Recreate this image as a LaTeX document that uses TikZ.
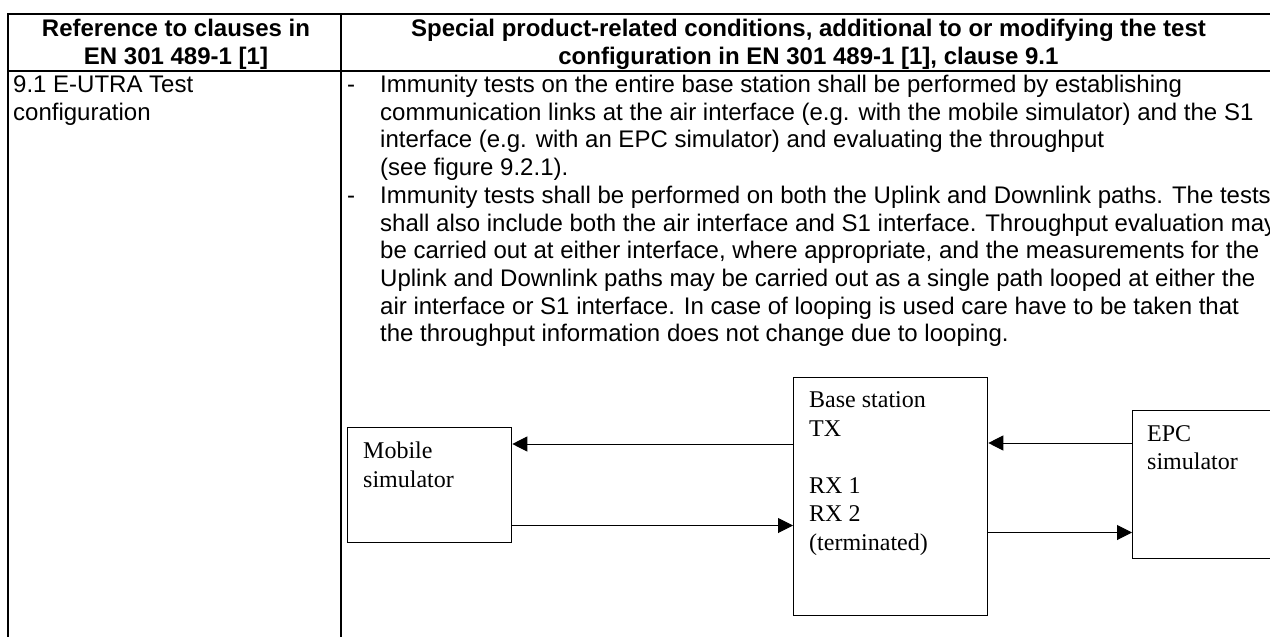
\documentclass[tikz,border=0pt]{standalone}
\usepackage{fontspec}
\setmainfont{Liberation Serif}
\newfontfamily\arialf{Liberation Sans}
\usetikzlibrary{arrows.meta}
\begin{document}
\begin{tikzpicture}[x=1pt,y=-1pt,
  tline/.style={line width=2pt},
  hdr/.style={font=\arialf\bfseries\fontsize{24}{27.6}\selectfont, inner sep=0pt, anchor=base},
  body/.style={font=\arialf\fontsize{24}{27.6}\selectfont, inner sep=0pt, anchor=base west},
  dtxt/.style={font=\fontsize{24}{28.6}\selectfont, inner sep=0pt, anchor=base west},
  blk/.style={draw, line width=1.3pt, inner sep=0pt, anchor=north west},
  conn/.style={line width=1pt, -{Triangle[length=15pt,width=15pt]}}]
\useasboundingbox (0,0) rectangle (1270,637);
\clip (0,0) rectangle (1270,637);
% table rules
\draw[tline] (7,14) -- (1300,14);
\draw[tline] (7,71) -- (1300,71);
\draw[tline] (8,13) -- (8,660);
\draw[tline] (341,13) -- (341,660);
% header
\node[hdr] (h1) at (176,36.5) {Reference to clauses in};
\node[hdr] (h2) at (176,64) {EN 301 489-1 [1]};
\coordinate (yh2) at (0,64);
\node[hdr, anchor=base east] (h3) at (1206,36.5) {Special product-related conditions, additional to or modifying the test};
\node[hdr] (h4) at (h3.base |- yh2) {configuration in EN 301 489-1 [1], clause 9.1};
% left column
\node[body] (c1) at (13,92.5) {9.1 E-UTRA Test};
\node[body] (c2) at (13,120.2) {configuration};
% right column
\node[body] (d1) at (347,92.5) {-};
\node[body] (d2) at (347,203.3) {-};
\node[body] (t1) at (380,92.5) {Immunity tests on the entire base station shall be performed by establishing};
\node[body] (t2) at (380,120.2) {communication links at the air interface (e.g. with the mobile simulator) and the S1};
\node[body] (t3) at (380,147.9) {interface (e.g. with an EPC simulator) and evaluating the throughput};
\node[body] (t4) at (380,175.6) {(see figure 9.2.1).};
\node[body] (t5) at (380,203.3) {Immunity tests shall be performed on both the Uplink and Downlink paths. The tests};
\node[body] (t6) at (380,231) {shall also include both the air interface and S1 interface. Throughput evaluation may};
\node[body] (t7) at (380,258.7) {be carried out at either interface, where appropriate, and the measurements for the};
\node[body] (t8) at (380,286.4) {Uplink and Downlink paths may be carried out as a single path looped at either the};
\node[body] (t9) at (380,314.1) {air interface or S1 interface. In case of looping is used care have to be taken that};
\node[body] (t10) at (380,341.8) {the throughput information does not change due to looping.};
% diagram blocks
\node[blk, minimum width=164pt, minimum height=115pt] (mob) at (347,427) {};
\node[blk, minimum width=194pt, minimum height=238pt] (base) at (793,377) {};
\node[blk, minimum width=220pt, minimum height=148pt] (epc) at (1132,410) {};
\node[dtxt] (m1) at (363,458) {Mobile};
\node[dtxt] (m2) at (363,487) {simulator};
\node[dtxt] (b1) at (809,407) {Base station};
\node[dtxt] (b2) at (809,436) {TX};
\node[dtxt] (b3) at (809,493) {RX 1};
\node[dtxt] (b4) at (809,521.5) {RX 2};
\node[dtxt] (b5) at (809,550) {(terminated)};
\node[dtxt] (e1) at (1147,441) {EPC};
\node[dtxt] (e2) at (1147,469) {simulator};
% connectors
\coordinate (ya) at (0,444);
\coordinate (yb) at (0,525.5);
\coordinate (yc) at (0,443);
\coordinate (yd) at (0,532.5);
\draw[conn] (base.west |- ya) -- (mob.east |- ya);
\draw[conn] (mob.east |- yb) -- (base.west |- yb);
\draw[conn] (epc.west |- yc) -- (base.east |- yc);
\draw[conn] (base.east |- yd) -- (epc.west |- yd);
\end{tikzpicture}
\end{document}
